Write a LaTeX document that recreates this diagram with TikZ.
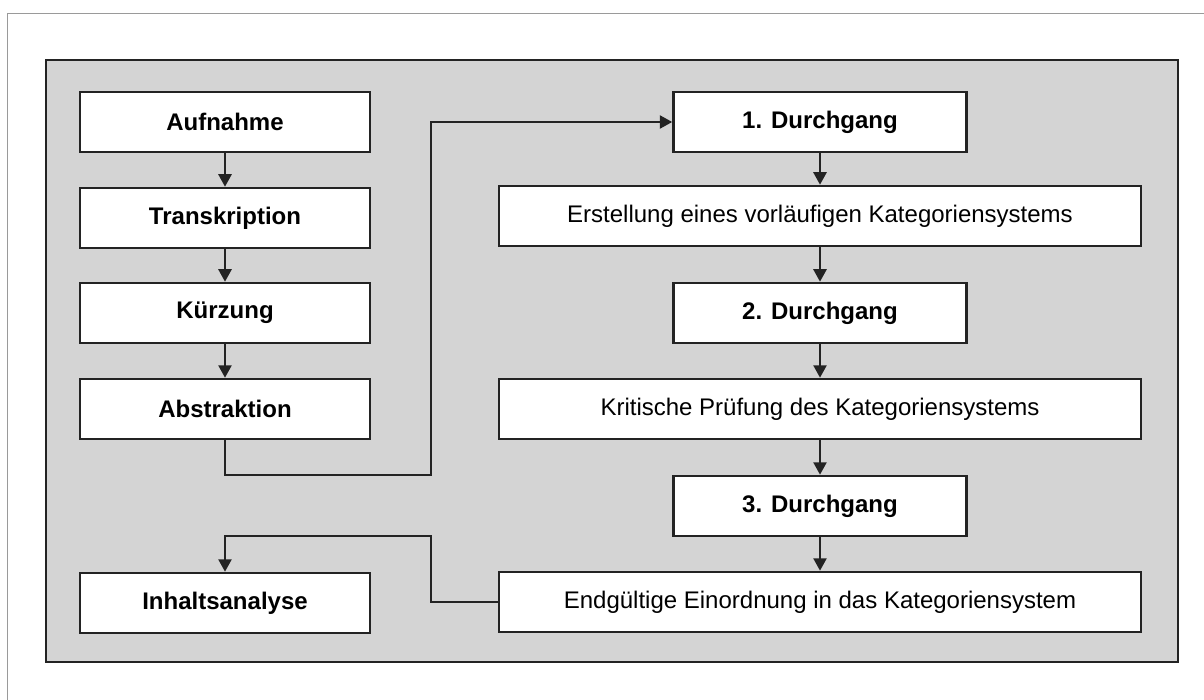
\documentclass[tikz,border=0pt]{standalone}
\usepackage{fontspec}
\setmainfont{Liberation Sans}
\usepackage{xcolor}
\usetikzlibrary{arrows.meta}
\definecolor{strich}{HTML}{232323}
\definecolor{panelgrau}{HTML}{D4D4D4}
\definecolor{randgrau}{HTML}{9A9A9A}

\begin{document}
\begin{tikzpicture}[x=1pt,y=-1pt,>={Triangle[length=12.5pt,width=13pt]},
  kasten/.style={draw=strich,line width=2.5pt,fill=white,inner sep=0pt,minimum height=60pt,font=\fontsize{24}{28}\selectfont\bfseries},
  links/.style={kasten,minimum width=290pt},
  rechts/.style={kasten,minimum width=293pt},
  breit/.style={kasten,minimum width=642pt,font=\fontsize{24}{28}\selectfont},
  pfeil/.style={->,draw=strich,line width=2.5pt}]
  \useasboundingbox[fill=white] (0,0) rectangle (1204,700);
  \draw[randgrau,line width=1.2pt] (1204,13.5) -- (7.5,13.5) -- (7.5,700);
  \draw[draw=strich,fill=panelgrau,line width=2.5pt] (46,60) rectangle (1178,662);
  % linke Spalte
  \node[links] (aufn) at (225,122) {Aufnahme};
  \node[links] (trans) at (225,218) {Transkription};
  \node[links] (kuerz) at (225,313) {Kürzung};
  \node[links] (abstr) at (225,409) {Abstraktion};
  \node[links] (inhalt) at (225,603) {Inhaltsanalyse};
  % rechte Spalte
  \node[rechts] (d1) at (820,122) {1. Durchgang};
  \node[breit] (erst) at (820,216) {Erstellung eines vorläufigen Kategoriensystems};
  \node[rechts] (d2) at (820,313) {2. Durchgang};
  \node[breit] (krit) at (820,409) {Kritische Prüfung des Kategoriensystems};
  \node[rechts] (d3) at (820,506) {3. Durchgang};
  \node[breit] (endg) at (820,602) {Endgültige Einordnung in das Kategoriensystem};
  \coordinate (knick1) at (431,475);
  \coordinate (knick2) at (431,536);
  \draw[pfeil] (aufn) -- (trans);
  \draw[pfeil] (trans) -- (kuerz);
  \draw[pfeil] (kuerz) -- (abstr);
  \draw[pfeil] (abstr.south) |- (knick1) |- (d1.west);
  \draw[pfeil] (d1) -- (erst);
  \draw[pfeil] (erst) -- (d2);
  \draw[pfeil] (d2) -- (krit);
  \draw[pfeil] (krit) -- (d3);
  \draw[pfeil] (d3) -- (endg);
  \draw[pfeil] (endg.west) -| (knick2) -| (inhalt.north);
\end{tikzpicture}
\end{document}
